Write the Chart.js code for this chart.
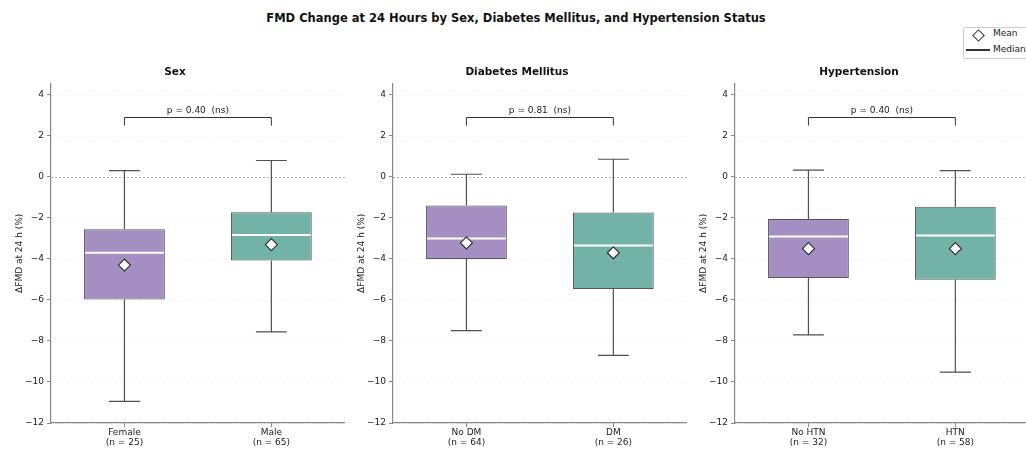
<!DOCTYPE html>
<html>
<head>
<meta charset="utf-8">
<script src="https://cdn.jsdelivr.net/npm/chart.js"></script>
<style>
  html, body { margin: 0; padding: 0; background: #fff; }
  body { width: 1026px; height: 449px; position: relative; overflow: hidden; font-family: 'DejaVu Sans', sans-serif; }
  .panel { position: absolute; top: 0; }
  #mainTitle { position: absolute; left: 6px; width: 1020px; top: 11px; height: 14px; line-height: 14px;
    text-align: center; font-weight: bold; font-size: 11.5px; color: #111; }
  #legend { position: absolute; left: 963px; top: 27px; width: 80px; height: 30px; border: 1px solid #ccc;
    border-radius: 2px; background: #fff; font-size: 9px; color: #222; }
  #legend .dia { position: absolute; left: 10px; top: 3px; width: 7px; height: 7px; border: 1.2px solid #333;
    background: #fff; transform: rotate(45deg); }
  #legend .med { position: absolute; left: 2px; top: 21px; width: 24px; height: 2px; background: #333; }
  #legend .txt { position: absolute; left: 29px; line-height: 11px; }
</style>
</head>
<body>
<div id="mainTitle">FMD Change at 24 Hours by Sex, Diabetes Mellitus, and Hypertension Status</div>
<canvas id="c0" class="panel" width="352" height="449" style="left:0px"></canvas>
<canvas id="c1" class="panel" width="352" height="449" style="left:342px"></canvas>
<canvas id="c2" class="panel" width="352" height="449" style="left:684px"></canvas>
<div id="legend">
  <span class="dia"></span><span class="txt" style="top:0px">Mean</span>
  <span class="med"></span><span class="txt" style="top:16px">Median</span>
</div>

<script>
  // panel titles and group labels
  const panelTitles = ['Sex', 'Diabetes Mellitus', 'Hypertension'];
  const groupLabels = [
    [['Female', '(n = 25)'], ['Male', '(n = 65)']],
    [['No DM', '(n = 64)'], ['DM', '(n = 26)']],
    [['No HTN', '(n = 32)'], ['HTN', '(n = 58)']]
  ];

  // box statistics (ΔFMD %)
  const whiskerLow  = [[-10.95, -7.56], [-7.5, -8.7],  [-7.7, -9.52]];
  const q1Values    = [[-5.98, -4.08],  [-4.0, -5.46], [-4.93, -5.02]];
  const medianVals  = [[-3.7, -2.83],   [-3.0, -3.35], [-2.9, -2.86]];
  const meanValues  = [[-4.3, -3.3],    [-3.22, -3.7], [-3.5, -3.5]];
  const q3Values    = [[-2.55, -1.72],  [-1.4, -1.74], [-2.05, -1.45]];
  const whiskerHigh = [[0.31, 0.8],     [0.13, 0.86],  [0.33, 0.31]];

  const pValues = ['0.40', '0.81', '0.40'];
  const bracketY = 2.9;
  const bracketDrop = 0.4;

  const yTicks = [-12, -10, -8, -6, -4, -2, 0, 2, 4];
  const yMin = -12, yMax = 4.55;

  const groupColors = ['#a58ec2', '#73b2a6'];

  const boxParts = {
    id: 'boxParts',
    beforeDatasetsDraw(chart) {
      const {ctx, chartArea} = chart;
      const ys = chart.scales.y;
      ctx.save();
      ys.ticks.forEach(t => {
        const y = Math.round(ys.getPixelForValue(t.value)) + 0.5;
        ctx.beginPath();
        if (t.value === 0) {
          ctx.strokeStyle = 'rgba(120,120,120,0.7)';
          ctx.lineWidth = 0.8;
          ctx.setLineDash([2, 2]);
        } else {
          ctx.strokeStyle = 'rgba(0,0,0,0.10)';
          ctx.lineWidth = 0.8;
          ctx.setLineDash([1, 2]);
        }
        ctx.moveTo(chartArea.left, y);
        ctx.lineTo(chartArea.right, y);
        ctx.stroke();
      });
      ctx.restore();
    },
    afterDatasetDraw(chart, args, opts) {
      if (args.meta.type !== 'bar') return;
      const p = opts.panel;
      const {ctx} = chart;
      const xs = chart.scales.x, ys = chart.scales.y;
      const spacing = xs.getPixelForValue(1) - xs.getPixelForValue(0);
      const capHalf = spacing * 0.105;
      ctx.save();
      args.meta.data.forEach((bar, j) => {
        const x = xs.getPixelForValue(j);
        const yHi = ys.getPixelForValue(whiskerHigh[p][j]);
        const yLo = ys.getPixelForValue(whiskerLow[p][j]);
        const yQ1 = ys.getPixelForValue(q1Values[p][j]);
        const yQ3 = ys.getPixelForValue(q3Values[p][j]);
        ctx.strokeStyle = '#505050';
        ctx.lineWidth = 1.2;
        ctx.beginPath();
        ctx.moveTo(x, yQ3); ctx.lineTo(x, yHi);
        ctx.moveTo(x, yQ1); ctx.lineTo(x, yLo);
        ctx.moveTo(x - capHalf, yHi); ctx.lineTo(x + capHalf, yHi);
        ctx.moveTo(x - capHalf, yLo); ctx.lineTo(x + capHalf, yLo);
        ctx.stroke();
        // median
        const yMed = ys.getPixelForValue(medianVals[p][j]);
        const half = bar.width / 2 - 1;
        ctx.strokeStyle = '#ffffff';
        ctx.lineWidth = 2;
        ctx.beginPath();
        ctx.moveTo(x - half, yMed); ctx.lineTo(x + half, yMed);
        ctx.stroke();
      });
      ctx.restore();
    },
    afterDraw(chart, args, opts) {
      const p = opts.panel;
      const {ctx} = chart;
      const xs = chart.scales.x, ys = chart.scales.y;
      const x0 = xs.getPixelForValue(0), x1 = xs.getPixelForValue(1);
      const yb = Math.round(ys.getPixelForValue(bracketY)) + 0.5;
      const yd = ys.getPixelForValue(bracketY - bracketDrop);
      ctx.save();
      ctx.strokeStyle = '#333';
      ctx.lineWidth = 1;
      ctx.beginPath();
      ctx.moveTo(x0, yd); ctx.lineTo(x0, yb); ctx.lineTo(x1, yb); ctx.lineTo(x1, yd);
      ctx.stroke();
      ctx.fillStyle = '#222';
      ctx.font = '9px "DejaVu Sans"';
      ctx.textAlign = 'center';
      ctx.textBaseline = 'bottom';
      ctx.fillText('p = ' + pValues[p] + '  (ns)', (x0 + x1) / 2, yb - 2);
      ctx.restore();
    }
  };

  function makePanel(p) {
    const ctx = document.getElementById('c' + p).getContext('2d');
    return new Chart(ctx, {
      type: 'bar',
      data: {
        labels: groupLabels[p],
        datasets: [
          {
            type: 'line',
            label: 'Mean',
            data: meanValues[p],
            showLine: false,
            pointStyle: 'rectRot',
            pointRadius: 6,
            pointBackgroundColor: '#ffffff',
            pointBorderColor: '#333',
            pointBorderWidth: 1.2,
            order: 1
          },
          {
            label: 'IQR',
            data: q1Values[p].map((v, j) => [v, q3Values[p][j]]),
            backgroundColor: groupColors,
            borderColor: '#555',
            borderWidth: 1,
            borderSkipped: false,
            barPercentage: 0.55,
            categoryPercentage: 1,
            order: 2
          }
        ]
      },
      options: {
        responsive: false,
        animation: false,
        devicePixelRatio: 1,
        layout: { padding: { left: 0, right: 2, top: 0, bottom: 0 } },
        plugins: {
          legend: { display: false },
          tooltip: { enabled: false },
          title: {
            display: true,
            text: panelTitles[p],
            color: '#111',
            font: { family: 'DejaVu Sans', size: 10.5, weight: 'bold', lineHeight: 1.2 },
            padding: { top: 66, bottom: 5 }
          },
          boxParts: { panel: p }
        },
        scales: {
          x: {
            offset: true,
            grid: { display: true, offset: false, drawOnChartArea: false, drawTicks: true, tickLength: 4, color: '#888' },
            border: { display: true, color: '#888', width: 1.2 },
            ticks: { color: '#222', padding: 1, maxRotation: 0, font: { family: 'DejaVu Sans', size: 9, lineHeight: 1.1 } },
            afterFit(scale) { scale.height = 26; }
          },
          y: {
            min: yMin,
            max: yMax,
            afterBuildTicks(scale) { scale.ticks = yTicks.map(v => ({ value: v })); },
            grid: { display: true, drawOnChartArea: false, drawTicks: true, tickLength: 4, color: '#888' },
            border: { display: true, color: '#888', width: 1.2 },
            ticks: {
              color: '#222', padding: 3,
              font: { family: 'DejaVu Sans', size: 9 },
              callback: v => (v < 0 ? '\u2212' + Math.abs(v) : String(v))
            },
            title: {
              display: true,
              text: '\u0394FMD at 24 h (%)',
              color: '#222',
              font: { family: 'DejaVu Sans', size: 9 },
              padding: { top: 14, bottom: 0 }
            },
            afterFit(scale) { scale.width = 51; }
          }
        }
      },
      plugins: [boxParts]
    });
  }

  panelTitles.forEach((t, p) => makePanel(p));
</script>
</body>
</html>
